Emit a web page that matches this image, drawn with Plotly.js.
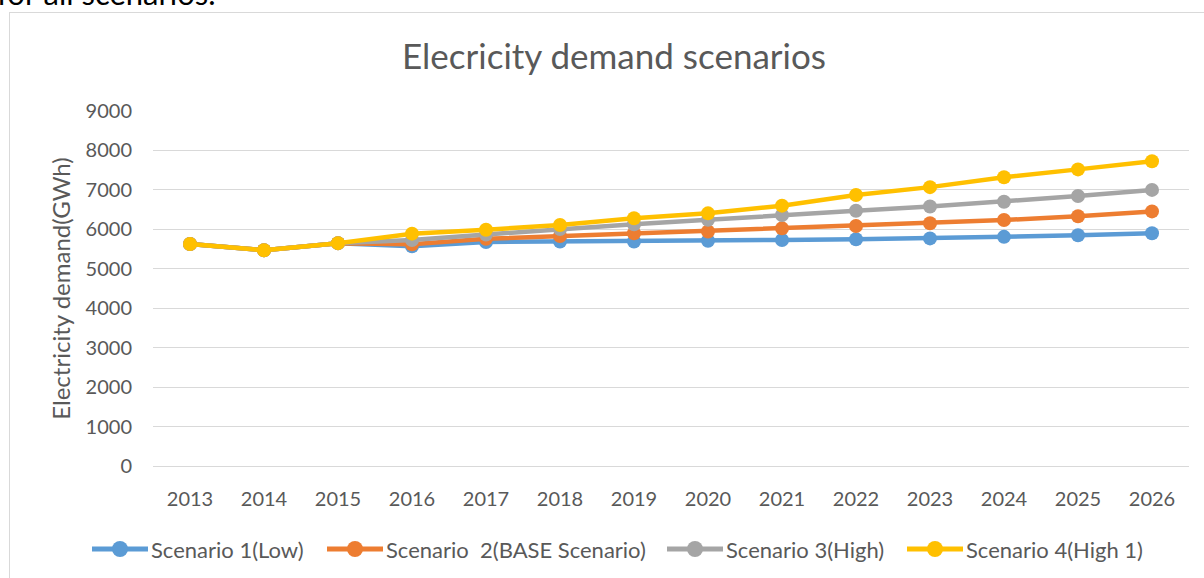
<!DOCTYPE html>
<html>
<head>
<meta charset="utf-8">
<script src="https://cdn.plot.ly/plotly-3.0.1.min.js"></script>
<style>
  html, body { margin: 0; padding: 0; background: #ffffff; overflow: hidden; width: 1204px; height: 578px; }
  #pre { position: absolute; left: -3px; top: -22px; font-family: Lato, "Open Sans", sans-serif; font-size: 31px; color: #000; white-space: nowrap; line-height: 1; }
  #box { position: absolute; left: 9px; top: 12px; width: 1230px; height: 620px; border-left: 1px solid #d9d9d9; border-top: 1px solid #d9d9d9; }
  #chart { position: absolute; left: 0; top: 0; }
</style>
</head>
<body>
<div id="pre">for all scenarios.</div>
<div id="box"><div id="chart"></div></div>
<script>
const years = ['2013','2014','2015','2016','2017','2018','2019','2020','2021','2022','2023','2024','2025','2026'];
const scenario1 = [5630, 5470, 5650, 5570, 5680, 5690, 5690, 5710, 5730, 5750, 5770, 5810, 5850, 5900];
const scenario2 = [5630, 5470, 5650, 5620, 5760, 5830, 5900, 5945, 6025, 6085, 6155, 6235, 6330, 6455];
const scenario3 = [5630, 5470, 5650, 5730, 5870, 6010, 6130, 6240, 6365, 6470, 6580, 6700, 6845, 7000];
const scenario4 = [5630, 5470, 5650, 5890, 5990, 6110, 6280, 6405, 6600, 6870, 7070, 7320, 7520, 7725];
const seriesNames = ['Scenario 1(Low)', 'Scenario  2(BASE Scenario)', 'Scenario 3(High)', 'Scenario 4(High 1)'];
const seriesColors = ['#5B9BD5', '#ED7D31', '#A5A5A5', '#FFC000'];
const yTicks = [0, 1000, 2000, 3000, 4000, 5000, 6000, 7000, 8000, 9000];

const allSeries = [scenario1, scenario2, scenario3, scenario4];
const FONT = 'Lato, "Open Sans", sans-serif';
const traces = allSeries.map((vals, i) => ({
  type: 'scatter',
  mode: 'lines+markers',
  x: years,
  y: vals,
  name: seriesNames[i],
  line: { color: seriesColors[i], width: 4.5 },
  marker: { color: seriesColors[i], size: 14 },
  showlegend: false
}));

// geometry (page pixels)
const W = 1230, H = 620;
const OX = 10, OY = 13;               // chart div origin on page
const PL = 153, PR = 1189, PT = 111, PB = 466;  // plot area on page
const toPX = px => (px - PL) / (PR - PL);
const toPY = py => 1 - (py - PT) / (PB - PT);

// custom legend (Excel style: long line with a centred marker)
const legendStart = [92, 327, 667, 907];
const legendY = 549, legendLine = 56;
const shapes = [], annotations = [];
seriesNames.forEach((name, i) => {
  const x0 = legendStart[i];
  shapes.push({ type: 'line', xref: 'paper', yref: 'paper', x0: toPX(x0), x1: toPX(x0 + legendLine),
    y0: toPY(legendY), y1: toPY(legendY), line: { color: seriesColors[i], width: 5 } });
  shapes.push({ type: 'circle', xref: 'paper', yref: 'paper', xsizemode: 'pixel', ysizemode: 'pixel',
    xanchor: toPX(x0 + legendLine / 2), yanchor: toPY(legendY), x0: -8, x1: 8, y0: -8, y1: 8,
    fillcolor: seriesColors[i], line: { width: 0 } });
  annotations.push({ xref: 'paper', yref: 'paper', x: toPX(x0 + legendLine + 1), y: toPY(legendY),
    xanchor: 'left', yanchor: 'middle', showarrow: false, text: name,
    font: { family: FONT, size: 22, color: '#595959' } });
});

const layout = {
  width: W, height: H,
  margin: { l: PL - OX, r: W - (PR - OX), t: PT - OY, b: H - (PB - OY) },
  paper_bgcolor: '#ffffff',
  plot_bgcolor: '#ffffff',
  font: { family: FONT, color: '#595959', size: 20 },
  title: {
    text: 'Elecricity demand scenarios',
    font: { family: FONT, size: 35, color: '#595959' },
    xref: 'container', yref: 'container',
    x: (614 - OX) / W, xanchor: 'center',
    y: 1 - (57 - OY) / H, yanchor: 'middle'
  },
  xaxis: {
    type: 'category',
    categoryorder: 'array', categoryarray: years,
    range: [-0.5, 13.5],
    showgrid: false,
    showline: true, linecolor: '#d9d9d9', linewidth: 1,
    ticks: '',
    ticklabelstandoff: 15,
    tickfont: { family: FONT, size: 20, color: '#595959' },
    zeroline: false,
    fixedrange: true
  },
  yaxis: {
    range: [0, 9000],
    tickvals: yTicks,
    ticktext: yTicks.map(String),
    showgrid: true, gridcolor: '#d9d9d9', gridwidth: 1,
    showline: false,
    zeroline: false,
    ticks: '',
    ticklabelstandoff: 20,
    tickfont: { family: FONT, size: 20, color: '#595959' },
    title: { text: 'Electricity demand(GWh)', font: { family: FONT, size: 24, color: '#595959' }, standoff: 8 },
    fixedrange: true
  },
  showlegend: false,
  shapes: shapes,
  annotations: annotations
};

Plotly.newPlot('chart', traces, layout, { displayModeBar: false, staticPlot: true });
</script>
</body>
</html>
